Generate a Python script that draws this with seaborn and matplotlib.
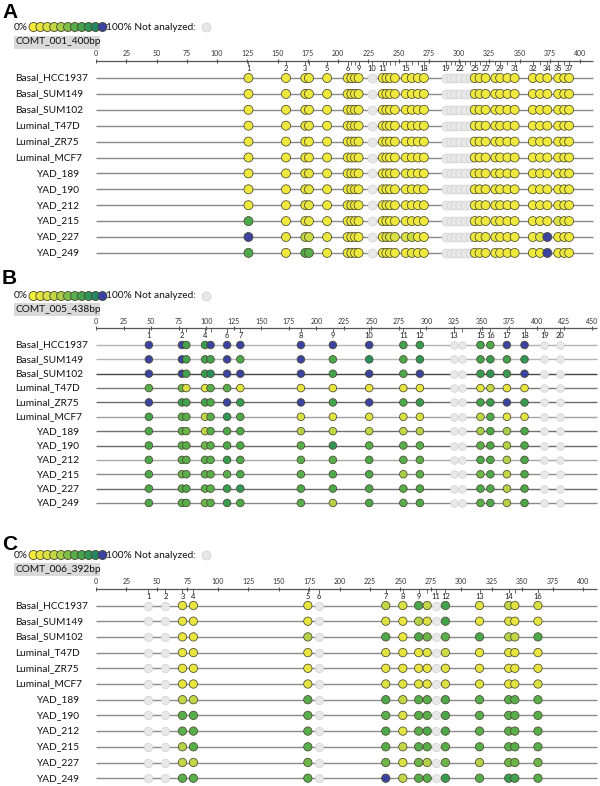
import numpy as np
import pandas as pd
import matplotlib
matplotlib.use('Agg')
import matplotlib.pyplot as plt
import seaborn as sns
from matplotlib.colors import LinearSegmentedColormap
from matplotlib.patches import Rectangle

sns.set_theme(style='white')
plt.rcParams['font.family'] = ['Lato', 'DejaVu Sans']
plt.rcParams['text.color'] = '#111111'

W, H = 600, 786
NA = np.nan

samples = ['Basal_HCC1937', 'Basal_SUM149', 'Basal_SUM102', 'Luminal_T47D',
           'Luminal_ZR75', 'Luminal_MCF7', 'YAD_189', 'YAD_190', 'YAD_212',
           'YAD_215', 'YAD_227', 'YAD_249']

legend_levels = [0.0, 0.1, 0.2, 0.3, 0.4, 0.5, 0.6, 0.7, 0.8, 0.9, 1.0]

# ---- panel A: COMT_001 ----
a_title = 'COMT_001_400bp'
a_ticks = [0, 25, 50, 75, 100, 125, 150, 175, 200, 225, 250, 275, 300, 325, 350, 375, 400]
a_cpg_pos = [126, 157, 173, 176, 191, 208, 211, 214, 217, 228, 237, 240, 243, 247,
             256, 261, 266, 271, 289, 293, 297, 301, 305, 309, 313, 317, 322,
             330, 334, 340, 346, 361, 367, 373, 382, 387, 391]
a_cpg_shown = [1, 2, 3, 5, 6, 9, 10, 11, 15, 18, 19, 22, 25, 27, 29, 31, 32, 34, 35, 37]
a_levels = [
    [0.1, 0.05, 0.05, 0.05, 0.05, 0.05, 0.05, 0.05, 0.05, NA, 0.05, 0.05, 0.05, 0.05, 0.05, 0.05, 0.05, 0.05,
     NA, NA, NA, NA, NA, NA, 0.05, 0.05, 0.05, 0.05, 0.05, 0.05, 0.05, 0.05, 0.05, 0.05, 0.05, 0.05, 0.05],
    [0.05, 0.05, 0.1, 0.05, 0.05, 0.05, 0.05, 0.05, 0.05, NA, 0.05, 0.05, 0.05, 0.05, 0.05, 0.05, 0.05, 0.05,
     NA, NA, NA, NA, NA, NA, 0.05, 0.05, 0.05, 0.05, 0.05, 0.05, 0.05, 0.05, 0.05, 0.05, 0.05, 0.05, 0.05],
    [0.05, 0.05, 0.05, 0.05, 0.05, 0.05, 0.05, 0.05, 0.05, NA, 0.05, 0.05, 0.05, 0.05, 0.05, 0.05, 0.05, 0.05,
     NA, NA, NA, NA, NA, NA, 0.05, 0.05, 0.05, 0.05, 0.05, 0.05, 0.05, 0.05, 0.05, 0.05, 0.05, 0.05, 0.05],
    [0.05, 0.05, 0.1, 0.1, 0.05, 0.05, 0.05, 0.05, 0.05, NA, 0.05, 0.05, 0.05, 0.05, 0.05, 0.05, 0.05, 0.05,
     NA, NA, NA, NA, NA, NA, 0.05, 0.05, 0.05, 0.05, 0.05, 0.05, 0.05, 0.05, 0.05, 0.05, 0.05, 0.05, 0.05],
    [0.05, 0.05, 0.05, 0.05, 0.05, 0.05, 0.05, 0.05, 0.05, NA, 0.05, 0.05, 0.05, 0.05, 0.05, 0.05, 0.05, 0.05,
     NA, NA, NA, NA, NA, NA, 0.05, 0.05, 0.05, 0.05, 0.05, 0.05, 0.05, 0.05, 0.05, 0.05, 0.05, 0.05, 0.05],
    [0.05, 0.05, 0.05, 0.05, 0.05, 0.05, 0.05, 0.05, 0.05, NA, 0.05, 0.05, 0.05, 0.05, 0.05, 0.05, 0.05, 0.05,
     NA, NA, NA, NA, NA, NA, 0.05, 0.05, 0.05, 0.05, 0.05, 0.05, 0.05, 0.05, 0.05, 0.05, 0.05, 0.1, 0.05],
    [0.05, 0.05, 0.1, 0.1, 0.05, 0.05, 0.05, 0.05, 0.05, NA, 0.05, 0.05, 0.1, 0.05, 0.1, 0.05, 0.05, 0.05,
     NA, NA, NA, NA, NA, NA, 0.05, 0.05, 0.05, 0.05, 0.05, 0.05, 0.05, 0.05, 0.05, 0.05, 0.05, 0.05, 0.05],
    [0.05, 0.05, 0.1, 0.1, 0.05, 0.05, 0.05, 0.05, 0.05, NA, 0.05, 0.05, 0.05, 0.05, 0.05, 0.05, 0.05, 0.05,
     NA, NA, NA, NA, NA, NA, 0.05, 0.05, 0.05, 0.05, 0.05, 0.05, 0.05, 0.05, 0.05, 0.05, 0.05, 0.05, 0.05],
    [0.05, 0.05, 0.1, 0.1, 0.05, 0.05, 0.05, 0.05, 0.05, NA, 0.05, 0.05, 0.05, 0.05, 0.05, 0.05, 0.05, 0.05,
     NA, NA, NA, NA, NA, NA, 0.05, 0.05, 0.05, 0.05, 0.05, 0.05, 0.05, 0.05, 0.05, 0.05, 0.05, 0.05, 0.05],
    [0.65, 0.05, 0.1, 0.1, 0.05, 0.05, 0.05, 0.05, 0.05, NA, 0.05, 0.05, 0.05, 0.05, 0.05, 0.05, 0.05, 0.05,
     NA, NA, NA, NA, NA, NA, 0.05, 0.05, 0.05, 0.05, 0.05, 0.05, 0.05, 0.05, 0.05, 0.05, 0.2, 0.05, 0.05],
    [1.0, 0.1, 0.3, 0.25, 0.1, 0.05, 0.05, 0.05, 0.05, NA, 0.05, 0.2, 0.2, 0.2, 0.2, 0.25, 0.05, 0.05,
     NA, NA, NA, NA, NA, NA, 0.05, 0.05, 0.1, 0.05, 0.05, 0.05, 0.05, 0.05, 0.15, 1.0, 0.05, 0.05, 0.05],
    [0.65, 0.05, 0.65, 0.6, 0.05, 0.05, 0.05, 0.05, 0.05, NA, 0.05, 0.05, 0.1, 0.05, 0.05, 0.1, 0.05, 0.05,
     NA, NA, NA, NA, NA, NA, 0.05, 0.05, 0.05, 0.05, 0.05, 0.05, 0.05, 0.05, 0.05, 1.0, 0.05, 0.1, 0.05],
]

# ---- panel B: COMT_005 ----
b_title = 'COMT_005_438bp'
b_ticks = [0, 25, 50, 75, 100, 125, 150, 175, 200, 225, 250, 275, 300, 325, 350, 375, 400, 425, 450]
b_cpg_pos = [48, 78, 82, 99, 104, 119, 131, 186, 215, 248, 279, 294, 325, 332, 349, 358, 373, 389, 407, 421]
b_cpg_shown = [1, 2, 4, 6, 7, 8, 9, 10, 11, 12, 13, 15, 16, 17, 18, 19, 20]
b_levels = [
    [1.0, 1.0, 0.7, 0.75, 1.0, 1.0, 1.0, 1.0, 1.0, 1.0, 0.7, 0.75, NA, NA, 0.7, 0.65, 1.0, 1.0, NA, NA],
    [1.0, 1.0, 0.7, 0.7, 0.7, 1.0, 0.65, 1.0, 0.65, 0.85, 0.65, 0.8, NA, NA, 0.7, 0.75, 0.7, 0.8, NA, NA],
    [1.0, 1.0, 0.7, 0.75, 0.85, 1.0, 1.0, 1.0, 0.7, 1.0, 0.65, 1.0, NA, NA, 0.75, 0.8, 0.75, 1.0, NA, NA],
    [0.6, 0.55, 0.2, 0.15, 0.6, 0.6, 0.15, 0.1, 0.1, 0.1, 0.1, 0.1, NA, NA, 0.15, 0.3, 0.1, 0.1, NA, NA],
    [1.0, 0.75, 0.7, 0.7, 0.65, 1.0, 0.75, 1.0, 0.7, 1.0, 0.65, 0.75, NA, NA, 0.7, 0.75, 1.0, 0.75, NA, NA],
    [0.7, 0.6, 0.6, 0.3, 0.6, 0.8, 0.65, 0.2, 0.15, 0.15, 0.2, 0.2, NA, NA, 0.3, 0.65, 0.15, 0.15, NA, NA],
    [0.65, 0.6, 0.55, 0.3, 0.6, 0.65, 0.65, 0.35, 0.3, 0.3, 0.3, 0.35, NA, NA, 0.4, 0.65, 0.4, 0.65, NA, NA],
    [0.65, 0.6, 0.6, 0.55, 0.6, 0.65, 0.65, 0.6, 0.8, 0.6, 0.6, 0.6, NA, NA, 0.6, 0.65, 0.35, 0.65, NA, NA],
    [0.65, 0.6, 0.6, 0.6, 0.6, 0.75, 0.65, 0.6, 0.6, 0.65, 0.6, 0.6, NA, NA, 0.65, 0.65, 0.35, 0.65, NA, NA],
    [0.65, 0.55, 0.6, 0.6, 0.6, 0.6, 0.65, 0.6, 0.65, 0.65, 0.4, 0.6, NA, NA, 0.55, 0.65, 0.3, 0.65, NA, NA],
    [0.65, 0.6, 0.65, 0.6, 0.6, 0.75, 0.8, 0.65, 0.65, 0.65, 0.6, 0.65, NA, NA, 0.65, 0.65, 0.35, 0.65, NA, NA],
    [0.65, 0.6, 0.6, 0.55, 0.6, 0.75, 0.65, 0.6, 0.35, 0.65, 0.6, 0.65, NA, NA, 0.6, 0.65, 0.35, 0.65, NA, NA],
]
b_line_colors = ['#b4b4b4', '#b4b4b4', '#454545', '#7a7a7a', '#6a6a6a', '#a0a0a0',
                 '#707070', '#6a6a6a', '#a8a8a8', '#8a8a8a', '#6a6a6a', '#8a8a8a']

# ---- panel C: COMT_006 ----
c_title = 'COMT_006_392bp'
c_ticks = [0, 25, 50, 75, 100, 125, 150, 175, 200, 225, 250, 275, 300, 325, 350, 375, 400]
c_cpg_pos = [43, 57, 71, 80, 174, 183, 238, 252, 265, 272, 279, 287, 315, 339, 344, 363]
c_cpg_shown = [1, 2, 3, 4, 5, 6, 7, 8, 9, 11, 12, 13, 14, 16]
c_levels = [
    [NA, NA, 0.1, 0.1, 0.1, NA, 0.3, 0.2, 0.65, 0.3, NA, 0.7, 0.15, 0.3, 0.15, 0.2],
    [NA, NA, 0.1, 0.1, 0.1, NA, 0.2, 0.1, 0.35, 0.2, NA, 0.7, 0.1, 0.2, 0.1, 0.1],
    [NA, NA, 0.1, 0.1, 0.35, NA, 0.65, 0.1, 0.65, 0.55, NA, 0.6, 0.65, 0.35, 0.3, 0.65],
    [NA, NA, 0.1, 0.1, 0.1, NA, 0.15, 0.1, 0.1, 0.15, NA, 0.25, 0.1, 0.15, 0.1, 0.1],
    [NA, NA, 0.1, 0.1, 0.1, NA, 0.1, 0.1, 0.1, 0.1, NA, 0.15, 0.1, 0.1, 0.1, 0.1],
    [NA, NA, 0.1, 0.1, 0.15, NA, 0.2, 0.15, 0.15, 0.15, NA, 0.2, 0.15, 0.1, 0.15, 0.2],
    [NA, NA, 0.3, 0.3, 0.6, NA, 0.65, 0.3, 0.6, 0.6, NA, 0.65, 0.6, 0.6, 0.6, 0.6],
    [NA, NA, 0.6, 0.6, 0.6, NA, 0.6, 0.2, 0.6, 0.6, NA, 0.65, 0.6, 0.6, 0.6, 0.6],
    [NA, NA, 0.6, 0.6, 0.6, NA, 0.65, 0.15, 0.6, 0.65, NA, 0.65, 0.6, 0.6, 0.6, 0.6],
    [NA, NA, 0.35, 0.6, 0.6, NA, 0.6, 0.3, 0.6, 0.6, NA, 0.6, 0.6, 0.6, 0.6, 0.6],
    [NA, NA, 0.3, 0.3, 0.55, NA, 0.55, 0.2, 0.55, 0.35, NA, 0.55, 0.35, 0.55, 0.55, 0.55],
    [NA, NA, 0.6, 0.6, 0.6, NA, 1.0, 0.3, 0.6, 0.6, NA, 0.75, 0.6, 0.75, 0.7, 0.6],
]

meth_cmap = LinearSegmentedColormap.from_list('meth', [
    (0.0, '#f4ec3a'), (0.2, '#dbe043'), (0.4, '#a6cd48'), (0.6, '#58ae4a'),
    (0.75, '#379c50'), (0.9, '#218864'), (1.0, '#3a43a0')])
EDGE = '#4a4830'
NA_FILL, NA_EDGE = '#e8e8e8', '#d0d0d0'

fig = plt.figure(figsize=(6, 7.86), dpi=100)

# overlay in pixel coords for the headers (letters, legend, amplicon box)
ov = fig.add_axes([0, 0, 1, 1])
ov.set_xlim(0, W)
ov.set_ylim(H, 0)
ov.axis('off')


def header(letter, title, y_letter, y_legend, y_box):
    ov.text(2, y_letter, letter, fontsize=15, fontweight='bold', color='black',
            family=['Liberation Sans', 'DejaVu Sans'], va='center', ha='left')
    ov.text(14, y_legend, '0%', fontsize=7.3, va='center', ha='left')
    leg = pd.DataFrame({'x': [33.5 + 6.9 * k for k in range(len(legend_levels))],
                        'y': y_legend, 'level': legend_levels})
    sns.scatterplot(data=leg, x='x', y='y', hue='level', palette=meth_cmap, hue_norm=(0, 1),
                    s=42, edgecolor=EDGE, linewidth=0.6, legend=False, ax=ov)
    ov.text(106, y_legend, '100% Not analyzed:', fontsize=7.3, va='center', ha='left')
    ov.scatter([206], [y_legend], s=40, color=NA_FILL, edgecolor=NA_EDGE, linewidth=0.6)
    ov.add_patch(Rectangle((14, y_box - 6.5), 86, 13, facecolor='#d9d9d9', edgecolor='none'))
    ov.text(16, y_box, title, fontsize=7.3, va='center', ha='left')


def panel(pos, shown, ticks, levels, y_axis, row0, sp, scale, line_end, dot, line_colors):
    x0, x1 = 96, 598
    ytop, ybot = y_axis - 14, row0 + sp * (len(samples) - 1) + 9
    ax = fig.add_axes([x0 / W, 1 - ybot / H, (x1 - x0) / W, (ybot - ytop) / H])
    ax.patch.set_alpha(0)

    ya = (y_axis - row0) / sp
    xend = (line_end - x0) / scale
    # scale bar with major ticks and CpG ticks
    ax.hlines(ya, 0, xend, color='#555555', lw=0.9)
    ax.vlines(ticks, ya - 2.5 / sp, ya + 2 / sp, color='#555555', lw=0.8)
    for t in ticks:
        ax.text(t, ya - 7 / sp, str(t), fontsize=5, ha='center', va='center', color='#333333')
    ax.vlines(pos, ya, ya + 4 / sp, color='#555555', lw=0.6)
    for n in shown:
        ax.text(pos[n - 1], ya + 7.5 / sp, str(n), fontsize=5.4, ha='center', va='center',
                color='#1a1a1a')

    # sample lines and labels
    ax.hlines(range(len(samples)), 0, xend, colors=line_colors, lw=1.0, zorder=1)
    for i, name in enumerate(samples):
        xl = 36 if name.startswith('YAD') else 15
        ax.text((xl - x0) / (x1 - x0), i, name, transform=ax.get_yaxis_transform(),
                fontsize=7.3, ha='left', va='center', color='#111111')

    df = pd.DataFrame([{'row': i, 'pos': p, 'level': lv}
                       for i, row in enumerate(levels) for p, lv in zip(pos, row)])
    done = df[df['level'].notna()]
    miss = df[df['level'].isna()]
    sns.scatterplot(data=miss, x='pos', y='row', color=NA_FILL, edgecolor=NA_EDGE,
                    s=dot, linewidth=0.5, legend=False, ax=ax, zorder=2)
    sns.scatterplot(data=done, x='pos', y='row', hue='level', palette=meth_cmap,
                    hue_norm=(0, 1), s=dot, edgecolor=EDGE, linewidth=0.55,
                    legend=False, ax=ax, zorder=3)
    ax.set_xlim(0, (x1 - x0) / scale)
    ax.set_ylim((ybot - row0) / sp, (ytop - row0) / sp)
    ax.axis('off')


header('A', a_title, 12, 27, 42)
panel(a_cpg_pos, a_cpg_shown, a_ticks, a_levels, y_axis=61, row0=78, sp=15.9,
      scale=1.21, line_end=593, dot=42, line_colors=['#888888'] * 12)

header('B', b_title, 278, 296, 309)
panel(b_cpg_pos, b_cpg_shown, b_ticks, b_levels, y_axis=328, row0=345, sp=14.36,
      scale=1.1016, line_end=597, dot=30, line_colors=b_line_colors)

header('C', c_title, 545, 555, 569)
panel(c_cpg_pos, c_cpg_shown, c_ticks, c_levels, y_axis=589, row0=605.5, sp=15.7,
      scale=1.2175, line_end=597, dot=36, line_colors=['#8a8a8a'] * 12)

fig.savefig('out.png', dpi=100, facecolor='white')
